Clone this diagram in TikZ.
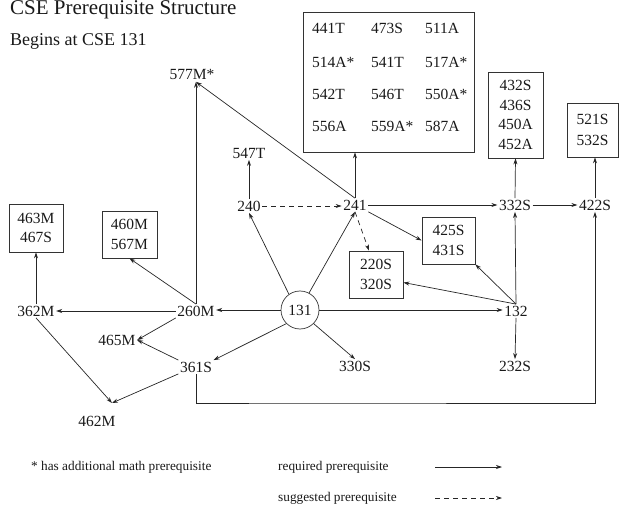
\documentclass[tikz,border=0pt]{standalone}
\usepackage{fontspec}
\setmainfont{Liberation Serif}
\usetikzlibrary{arrows.meta,calc}
\begin{document}
\begin{tikzpicture}[x=1pt,y=-1pt,
  lbl/.style={inner sep=1.5pt, text=black!90, font=\fontsize{15.5}{18}\selectfont},
  cbox/.style={draw=black!80, line width=0.8pt, inner sep=0pt, align=center, text=black!90, font=\fontsize{15.5}{19.5}\selectfont},
  req/.style={draw=black!85, line width=0.7pt, -{Stealth[length=6pt,width=4pt]}},
  sug/.style={req, dash pattern=on 5pt off 4pt},
  legtext/.style={anchor=west, inner sep=0pt, text=black!90, font=\fontsize{13.3}{15}\selectfont}]
\useasboundingbox (0,0) rectangle (619,505);

% titles
\node[anchor=base west, inner sep=0pt, text=black!90, font=\fontsize{21}{24}\selectfont] (title) at (10,15) {CSE Prerequisite Structure};
\node[anchor=base west, inner sep=0pt, text=black!90, font=\fontsize{18}{20}\selectfont] (begins) at (10,46) {Begins at CSE 131};

% plain course labels
\node[lbl] (n577) at (192,75) {577M*};
\node[lbl] (n547) at (249,153) {547T};
\node[lbl] (n240) at (249,206) {240};
\node[lbl] (n241) at (355,205) {241};
\node[lbl] (n332) at (515,205) {332S};
\node[lbl] (n422) at (595,205) {422S};
\node[lbl] (n260) at (196,311) {260M};
\node[lbl] (n362) at (36,311) {362M};
\node[lbl] (n465) at (117,340) {465M};
\node[lbl] (n361) at (196,367) {361S};
\node[lbl] (n462) at (97,421) {462M};
\node[lbl] (n132) at (516,311) {132};
\node[lbl] (n232) at (515,366) {232S};
\node[lbl] (n330) at (355,366) {330S};
\node[lbl, circle, draw=black!80, line width=0.7pt, minimum size=38pt, inner sep=0pt] (n131) at (300,310) {131};

% boxes
\node[cbox, minimum width=54pt, minimum height=48pt] (b463) at (36,228) {463M\\467S};
\node[cbox, minimum width=55pt, minimum height=47pt] (b460) at (129.5,234.5) {460M\\567M};
\node[cbox, minimum width=53pt, minimum height=47pt] (b425) at (448.5,240.5) {425S\\431S};
\node[cbox, minimum width=54pt, minimum height=47pt] (b220) at (376,274.5) {220S\\320S};
\node[cbox, minimum width=55pt, minimum height=86pt] (b432) at (515.5,115) {432S\\436S\\450A\\452A};
\node[cbox, minimum width=51pt, minimum height=54pt, font=\fontsize{15.5}{21}\selectfont] (b521) at (592.5,130) {521S\\532S};
\node[cbox, minimum width=171pt, minimum height=140pt] (big) at (388.5,82) {};

% contents of big box
\node[lbl, anchor=west] (c11) at (310.5,28) {441T};
\node[lbl, anchor=west] (c12) at (369.5,28) {473S};
\node[lbl, anchor=west] (c13) at (423.5,28) {511A};
\node[lbl, anchor=west] (c21) at (310.5,62) {514A*};
\node[lbl, anchor=west] (c22) at (369.5,62) {541T};
\node[lbl, anchor=west] (c23) at (423.5,62) {517A*};
\node[lbl, anchor=west] (c31) at (310.5,94) {542T};
\node[lbl, anchor=west] (c32) at (369.5,94) {546T};
\node[lbl, anchor=west] (c33) at (423.5,94) {550A*};
\node[lbl, anchor=west] (c41) at (310.5,126) {556A};
\node[lbl, anchor=west] (c42) at (369.5,126) {559A*};
\node[lbl, anchor=west] (c43) at (423.5,126) {587A};

% helper coordinates
\coordinate (t462) at (112,403);
\coordinate (bot) at (300,403);

% connectors
\draw[req] (n240.north) -- (n547.south);
\draw[sug] (n240.east) -- (n240.east -| n241.west);
\draw[req] (n241.north) -- (n241.north |- big.south);
\draw[req] (n241.north) -- ($(n577.south)+(4,0)$);
\draw[req] (n260.north) -- (n260.north |- n577.south);
\draw[req] (n260.north) -- (b460.south);
\draw[req] (n131.west) -- (n131.west -| n260.east);
\draw[req] (n260.west) -- (n260.west -| n362.east);
\draw[req] (n362.north) -- (b463.south);
\draw[req] (n362.south) -- (t462);
\draw[req] (n361.south west) -- (t462);
\draw[req] (n131.south west) -- (n361.north east);
\draw[req] (n361.north west) -- (n465.east);
\draw[req] (n260.south west) -- (n465.east);
\draw[req] (n131.south east) -- (n330.north);
\draw[req] (n131.125) -- (n240.south);
\draw[req] (n131.62) -- (n241.south);
\draw[req] (n131.east) -- (n131.east -| n132.west);
\draw[req] (n241.east) -- (n241.east -| n332.west);
\draw[req] (n332.east) -- (n332.east -| n422.west);
\draw[req] (n332.north) -- (b432.south);
\draw[req] (n422.north) -- (n422.north |- b521.south);
\draw[sug] (n241.south) -- ($(b220.north)+(-7,0)$);
\draw[req] (n241.south east) -- (b425.west);
\draw[req] (n132.north) -- (n332.south);
\draw[req] (n132.north) -- (b425.south east);
\draw[req] (n132.north) -- ($(b220.east)+(0,8)$);
\draw[req] (n132.south) -- (n232.north);
\draw[req] (n361.south) |- (bot) -| (n422.south);

% legend
\node[legtext] (lg1) at (31,467) {* has additional math prerequisite};
\node[legtext] (lg2) at (278,467) {required prerequisite};
\node[legtext] (lg3) at (278,498) {suggested prerequisite};
\coordinate (la1) at (435,467);
\coordinate (la2) at (502,467);
\coordinate (lb1) at (435,498);
\coordinate (lb2) at (502,498);
\draw[req] (la1) -- (la2);
\draw[sug] (lb1) -- (lb2);
\end{tikzpicture}
\end{document}
